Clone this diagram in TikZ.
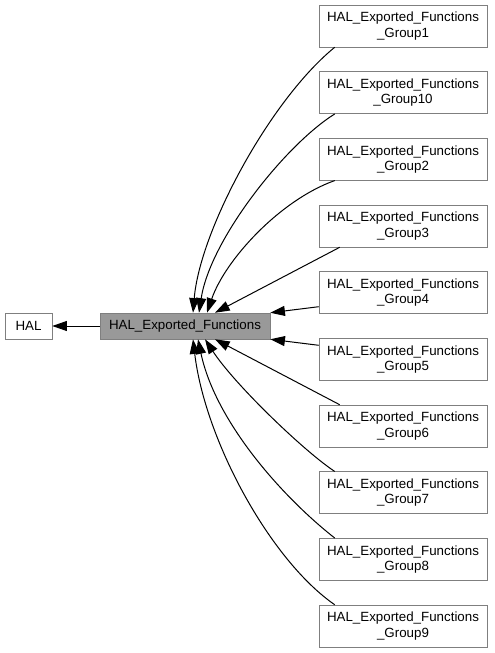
\documentclass[tikz,border=0pt]{standalone}
\usepackage{fontspec}
\setmainfont{Liberation Sans}
\usetikzlibrary{arrows.meta}
\definecolor{boxline}{HTML}{7F7F7F}
\definecolor{curfill}{HTML}{999999}
\tikzstyle{box}=[draw=boxline, fill=white, inner sep=0pt, align=center, font=\fontsize{10}{11.5}\selectfont]
\tikzstyle{current}=[box, fill=curfill, minimum width=127.5pt, minimum height=19.5pt]
\tikzstyle{parent}=[box, minimum width=35.25pt, minimum height=19.5pt]
\tikzstyle{group}=[box, minimum width=126pt, minimum height=31.5pt]
\tikzstyle{link}=[-{Triangle[length=11pt, width=7.5pt]}, draw=black, line width=0.75pt]

\begin{document}
\begin{tikzpicture}[x=0.75pt, y=-0.75pt]
    \useasboundingbox (0,0) rectangle (495,653);

    \node[parent]  (hal)   at (28.5,326) {HAL};
    \node[current] (funcs) at (185,326)  {HAL\_Exported\_Functions};

    \node[group] (g1)  at (403,26)    {HAL\_Exported\_Functions\\\_Group1};
    \node[group] (g10) at (403,92.7)  {HAL\_Exported\_Functions\\\_Group10};
    \node[group] (g2)  at (403,159.3) {HAL\_Exported\_Functions\\\_Group2};
    \node[group] (g3)  at (403,226)   {HAL\_Exported\_Functions\\\_Group3};
    \node[group] (g4)  at (403,292.7) {HAL\_Exported\_Functions\\\_Group4};
    \node[group] (g5)  at (403,359.3) {HAL\_Exported\_Functions\\\_Group5};
    \node[group] (g6)  at (403,426)   {HAL\_Exported\_Functions\\\_Group6};
    \node[group] (g7)  at (403,492.7) {HAL\_Exported\_Functions\\\_Group7};
    \node[group] (g8)  at (403,559.3) {HAL\_Exported\_Functions\\\_Group8};
    \node[group] (g9)  at (403,626)   {HAL\_Exported\_Functions\\\_Group9};

    \draw[link] (funcs) -- (hal);

    \draw[link] ([xshift=12pt]g1.south west) .. controls (270,100) and (200,230) .. ([xshift=6pt]funcs.north);
    \draw[link] ([xshift=12pt]g10.south west) .. controls (285,145) and (210,240) .. ([xshift=10.5pt]funcs.north);
    \draw[link] ([xshift=12pt]g2.south west) .. controls (280,200) and (225,260) .. ([xshift=16.5pt]funcs.north);
    \draw[link] ([xshift=15.75pt]g3.south west) -- ([xshift=22.5pt]funcs.north);
    \draw[link] ([yshift=-10.5pt]g4.west) -- (funcs.north east);
    \draw[link] ([yshift=10.5pt]g5.west) -- (funcs.south east);
    \draw[link] ([xshift=15.75pt]g6.north west) -- ([xshift=22.5pt]funcs.south);
    \draw[link] ([xshift=12pt]g7.north west) .. controls (305,452) and (235,385) .. ([xshift=15pt]funcs.south);
    \draw[link] ([xshift=12pt]g8.north west) .. controls (280,495) and (215,420) .. ([xshift=9.75pt]funcs.south);
    \draw[link] ([xshift=12pt]g9.north west) .. controls (270,560) and (205,440) .. ([xshift=6pt]funcs.south);
\end{tikzpicture}
\end{document}
